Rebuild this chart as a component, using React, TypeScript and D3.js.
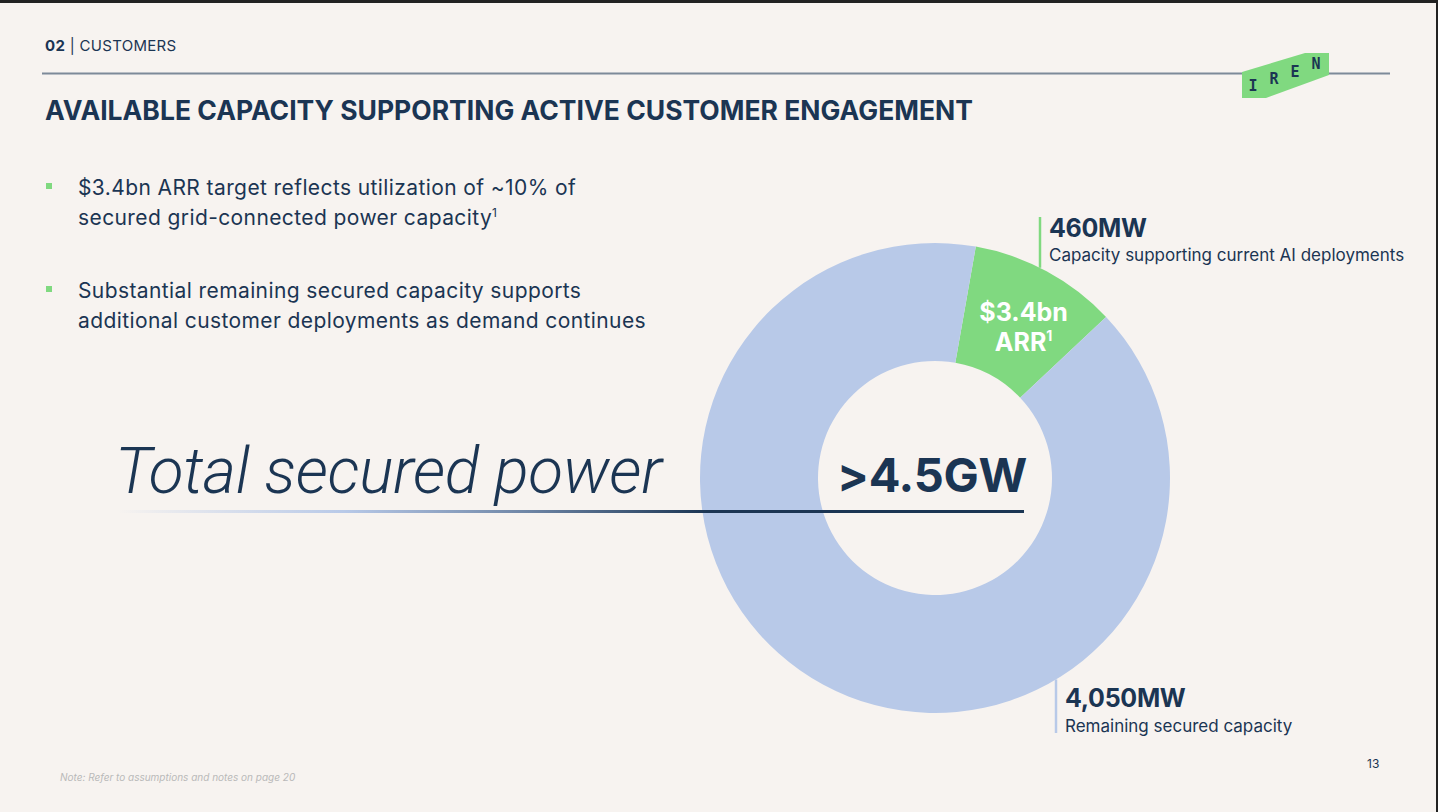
import { useEffect, useRef } from "react";
import * as d3 from "d3";

// Secured power split (MW)
const segments = ["Capacity supporting current AI deployments", "Remaining secured capacity"];
const capacityMW = [460, 4050];
const segmentColors = ["#80D980", "#B8C9E8"];
const sliceLabel = ["$3.4bn", "ARR"];

const bullets = [
  ["$3.4bn ARR target reflects utilization of ~10% of", "secured grid-connected power capacity"],
  ["Substantial remaining secured capacity supports", "additional customer deployments as demand continues"],
];
const logoLetters = ["I", "R", "E", "N"];

const NAVY = "#1B3553";
const BG = "#F7F3F0";

const App = () => {
  const svgRef = useRef<SVGSVGElement | null>(null);

  useEffect(() => {
    if (!svgRef.current) return;
    const svg = d3.select(svgRef.current);
    svg.selectAll("*").remove();

    const width = 1438;
    const height = 812;
    const font = "Inter, 'Noto Sans', sans-serif";

    svg.append("rect").attr("width", width).attr("height", height).attr("fill", BG);
    // window frame
    svg.append("rect").attr("width", width).attr("height", 3).attr("fill", "#222");
    svg.append("rect").attr("x", width - 2).attr("width", 2).attr("height", height).attr("fill", "#222");

    // section header
    const head = svg.append("text").attr("x", 45).attr("y", 51).attr("font-family", font)
      .attr("font-size", 15).attr("fill", NAVY).attr("letter-spacing", 0.3);
    head.append("tspan").attr("font-weight", 700).text("02");
    head.append("tspan").attr("font-weight", 400).text(" | CUSTOMERS");

    svg.append("line").attr("x1", 42).attr("x2", 1390).attr("y1", 73.5).attr("y2", 73.5)
      .attr("stroke", "#7D8A99").attr("stroke-width", 2);

    // logo badge
    const logo = svg.append("g");
    logo.append("path")
      .attr("d", "M1242,72 L1305,53 L1329,53 L1329,75 L1266,98 L1242,98 Z")
      .attr("fill", "#80D980");
    const letterPos = [[1253, 91], [1274, 84], [1295, 77], [1316, 69]];
    logo.selectAll("text.l").data(logoLetters).join("text")
      .attr("x", (_, i) => letterPos[i][0]).attr("y", (_, i) => letterPos[i][1])
      .attr("text-anchor", "middle").attr("font-family", "'DejaVu Sans Mono', monospace")
      .attr("font-weight", 700).attr("font-size", 15).attr("fill", NAVY).text(d => d);

    svg.append("text").attr("x", 45).attr("y", 120).attr("font-family", font)
      .attr("font-size", 26.5).attr("font-weight", 700).attr("fill", NAVY)
      .text("AVAILABLE CAPACITY SUPPORTING ACTIVE CUSTOMER ENGAGEMENT");

    // bullet list
    const bulletTop = [195, 298];
    bullets.forEach((lines, i) => {
      svg.append("rect").attr("x", 46).attr("y", bulletTop[i] - 12).attr("width", 6).attr("height", 6)
        .attr("fill", "#80D980");
      lines.forEach((ln, j) => {
        const t = svg.append("text").attr("x", 78).attr("y", bulletTop[i] + j * 30)
          .attr("font-family", font).attr("font-size", 21).attr("fill", NAVY)
          .attr("letter-spacing", 0.4).text(ln);
        if (i === 0 && j === 1) {
          t.append("tspan").attr("font-size", 12).attr("dy", -8).text("1");
        }
      });
    });

    // donut
    const cx = 935;
    const cy = 478;
    const outerR = 235;
    const innerR = 117;
    const start = (10 * Math.PI) / 180;

    const pie = d3.pie<number>().sort(null).startAngle(start).endAngle(start + 2 * Math.PI);
    const arcs = pie(capacityMW);
    const arc = d3.arc<d3.PieArcDatum<number>>().innerRadius(innerR).outerRadius(outerR);

    const g = svg.append("g").attr("transform", `translate(${cx},${cy})`);
    g.selectAll("path").data(arcs).join("path")
      .attr("d", arc).attr("fill", (_, i) => segmentColors[i]);

    // label inside the AI slice
    const [lx, ly] = arc.centroid(arcs[0]);
    const inner = g.append("text").attr("text-anchor", "middle").attr("font-family", font)
      .attr("font-weight", 700).attr("font-size", 25).attr("fill", "#fff");
    inner.append("tspan").attr("x", lx + 5).attr("y", ly - 2).text(sliceLabel[0]);
    const arr = inner.append("tspan").attr("x", lx + 5).attr("y", ly + 28).text(sliceLabel[1]);
    arr.append("tspan").attr("font-size", 14).attr("dy", -10).text("1");

    // callouts with leader lines starting on the ring edge
    const fmt = d3.format(",");
    const callouts = [
      { dx: 105, top: 217, side: -1, textX: 1049, valueY: 237, descY: 261 },
      { dx: 121, top: 733, side: 1, textX: 1065, valueY: 707, descY: 732 },
    ];
    callouts.forEach((c, i) => {
      const edgeY = cy + c.side * Math.sqrt(outerR * outerR - c.dx * c.dx);
      svg.append("line").attr("x1", cx + c.dx).attr("x2", cx + c.dx)
        .attr("y1", c.top).attr("y2", edgeY)
        .attr("stroke", segmentColors[i]).attr("stroke-width", 2.5);
      svg.append("text").attr("x", c.textX).attr("y", c.valueY).attr("font-family", font)
        .attr("font-weight", 700).attr("font-size", 25).attr("fill", NAVY)
        .attr("letter-spacing", -0.3)
        .text(`${fmt(capacityMW[i])}MW`);
      svg.append("text").attr("x", c.textX).attr("y", c.descY).attr("font-family", font)
        .attr("font-size", 17).attr("fill", NAVY)
        .text(segments[i]);
    });

    // headline strip across the chart
    const defs = svg.append("defs");
    const grad = defs.append("linearGradient").attr("id", "rule")
      .attr("gradientUnits", "userSpaceOnUse").attr("x1", 118).attr("x2", 1024).attr("y1", 0).attr("y2", 0);
    [[0, BG], [0.25, "#B8C9E8"], [0.45, "#6F86A6"], [0.65, NAVY], [1, NAVY]].forEach(([o, c]) =>
      grad.append("stop").attr("offset", o as number).attr("stop-color", c as string));

    svg.append("rect").attr("x", 118).attr("y", 510).attr("width", 1024 - 118).attr("height", 3)
      .attr("fill", "url(#rule)");

    svg.append("text").attr("x", 115).attr("y", 493)
      .attr("font-family", "Roboto, 'Liberation Sans', sans-serif").attr("font-style", "italic")
      .attr("font-weight", 300).attr("font-size", 64).attr("fill", NAVY)
      .attr("letter-spacing", -0.3)
      .text("Total secured power");

    const totalGW = d3.sum(capacityMW) / 1000;
    svg.append("text").attr("x", cx - 3).attr("y", 492).attr("text-anchor", "middle")
      .attr("font-family", font).attr("font-weight", 700).attr("font-size", 47).attr("fill", NAVY)
      .attr("letter-spacing", -0.3)
      .text(`>${totalGW.toFixed(1)}GW`);

    // footer
    svg.append("text").attr("x", 60).attr("y", 781).attr("font-family", font)
      .attr("font-style", "italic").attr("font-size", 10).attr("fill", "#B9B9B9")
      .text("Note: Refer to assumptions and notes on page 20");
    svg.append("text").attr("x", 1367).attr("y", 768).attr("font-family", font)
      .attr("font-size", 12).attr("fill", NAVY).text("13");
  }, []);

  return (
    <svg ref={svgRef} width={1438} height={812}
      style={{ position: "absolute", left: 0, top: 0, display: "block" }} />
  );
};

export default App;
